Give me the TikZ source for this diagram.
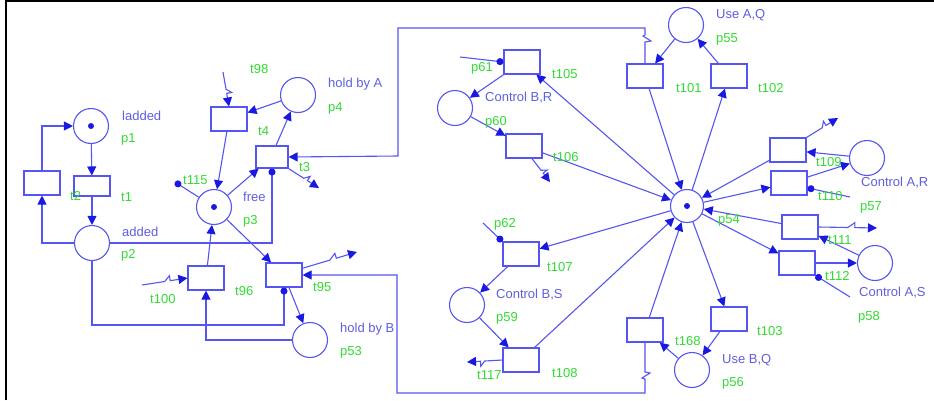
\documentclass[tikz,border=0pt]{standalone}
\usepackage{fontspec}
\setmainfont{Liberation Sans}
\usetikzlibrary{arrows.meta,calc}
\definecolor{pnblue}{RGB}{85,85,245}
\definecolor{tipblue}{RGB}{25,25,225}
\definecolor{lblblue}{RGB}{95,95,225}
\definecolor{lblgreen}{RGB}{50,220,50}
\tikzset{
 place/.style={circle,draw=pnblue,line width=1.1pt,minimum size=35pt,inner sep=0pt},
 trans/.style={rectangle,draw=pnblue,line width=1.1pt,minimum width=36pt,minimum height=24pt,inner sep=0pt},
 arc/.style={draw=pnblue,line width=1.1pt,-{Triangle[length=9pt,width=9pt,color=tipblue]}},
 testarc/.style={draw=pnblue,line width=1.1pt,-{Circle[length=7pt,color=tipblue]}},
 bl/.style={anchor=west,inner sep=0pt,text=lblblue,font=\fontsize{13}{15}\selectfont},
 gl/.style={anchor=west,inner sep=0pt,text=lblgreen,font=\fontsize{13}{15}\selectfont},
 tok/.style={circle,fill=tipblue,minimum size=6pt,inner sep=0pt},
 zigto/.style={to path={-- ($(\tikztostart)!0.5!(\tikztotarget)$) -- ($(\tikztostart)!0.62!(\tikztotarget)!5pt!90:(\tikztotarget)$) -- ($(\tikztostart)!0.62!(\tikztotarget)$) -- (\tikztotarget) \tikztonodes}},
}
\begin{document}
\begin{tikzpicture}[x=1pt,y=-1pt]
\useasboundingbox (0,0) rectangle (934,400);
\fill[white] (0,0) rectangle (934,400);
\draw[line width=2.4pt] (6,400) -- (6,1.2) -- (934,1.2);

% places
\node[place] (p1) at (91,126) {};
\node[place] (p2) at (92,243) {};
\node[place] (p3) at (214,207) {};
\node[place] (p4) at (298,95) {};
\node[place] (p53) at (310,340) {};
\node[place] (p60) at (455,108) {};
\node[place,minimum size=33pt] (p54) at (687,206) {};
\node[place] (p55) at (686,25) {};
\node[place] (p57) at (867,158) {};
\node[place] (p58) at (875,263) {};
\node[place] (p59) at (467,305) {};
\node[place] (p56) at (692,370) {};
\node[tok] (k1) at (p1) {};
\node[tok] (k3) at (p3) {};
\node[tok] (k54) at (p54) {};

% transitions
\node[trans,minimum height=20pt] (t1) at (92,186) {};
\node[trans] (t2) at (42,183) {};
\node[trans,minimum width=32pt,minimum height=22pt] (t4) at (272,157) {};
\node[trans] (t98) at (229,119) {};
\node[trans] (t96) at (206,278) {};
\node[trans] (t95) at (284,275) {};
\node[trans] (t105) at (522,62) {};
\node[trans] (t106) at (524,146) {};
\node[trans] (t101) at (645,76) {};
\node[trans] (t102) at (729,76) {};
\node[trans] (t109) at (788,150) {};
\node[trans] (t110) at (789,183) {};
\node[trans] (t111) at (800,227) {};
\node[trans] (t112) at (797,263) {};
\node[trans] (t103) at (729,319) {};
\node[trans] (t168) at (645,330) {};
\node[trans] (t107) at (521,254) {};
\node[trans] (t108) at (521,360) {};

% free ends
\coordinate (z98) at (223,72);
\coordinate (d115) at (175,182);
\coordinate (z4) at (319,188);
\coordinate (z95) at (357,252);
\coordinate (z100) at (142,285);
\coordinate (c95) at (284,325);
\coordinate (d61) at (460,57);
\coordinate (z106) at (550,182);
\coordinate (z109) at (838,118);
\coordinate (d110) at (850,197);
\coordinate (z111) at (877,228);
\coordinate (d112) at (850,297);
\coordinate (d62) at (483,223);
\coordinate (z117) at (467,362);

% left part
\draw[arc] (p1) -- (t1);
\draw[arc] (t1) -- (p2);
\draw[arc] (p2.west) -| (t2.south);
\draw[arc] (t2.north) |- (p1.west);
\draw[testarc] (p2.east) -| (t4.south);
\draw[arc] ([xshift=4pt]t4.north) -- (p4);
\draw[arc] (p4) -- (t98);
\draw[arc] (z98) to[zigto] (t98.north);
\draw[arc] (t98) -- (p3);
\draw[testarc] (p3) -- (d115);
\draw[arc] (p3) -- (t4);
\draw[arc] (t101.north) -- (645,42) -- (651,41) -- (643,36) -- (645,35) -- (645,28) -- (398,28) -- (398,156) -- (t4.east);
\draw[arc] (t4.south east) to[zigto] (z4);
\draw[arc] (p3) -- (t95);
\draw[arc] (t95.20) to[zigto] (z95);
\draw[arc] (t168.south) -- (645,372) -- (650,373) -- (642,378) -- (645,379) -- (645,393) -- (397,393) -- (397,275) -- (t95.east);
\draw[arc] (t95) -- (p53);
\draw[testarc] (p2.south) |- (c95) -- (t95.south);
\draw[arc] (p53.west) -| (t96.south);
\draw[arc] (t96) -- (p3);
\draw[arc] (z100) to[zigto] (t96.west);

% right part
\draw[arc] (t105) -- (p60);
\draw[testarc] (d61) -- (t105.west);
\draw[arc] (p54) -- (t105);
\draw[arc] (p60) -- (t106);
\draw[arc] ([xshift=8pt]t106.south) to[zigto] (z106);
\draw[arc] (t106) -- (p54);
\draw[arc] (p55) -- (t101);
\draw[arc] (t101) -- (p54);
\draw[arc] (p54) -- (t102);
\draw[arc] (t102) -- (p55);
\draw[arc] (t109) -- (p54);
\draw[arc] (t109.north east) to[zigto] (z109);
\draw[arc] (p57) -- (t109);
\draw[arc] (t110) -- (p57);
\draw[arc] (p54) -- (t110);
\draw[testarc] (d110) -- (t110.-15);
\draw[arc] (t111) -- (p54);
\draw[arc] (t111.east) to[zigto] (z111);
\draw[arc] (p58) -- (t111);
\draw[arc] (p54) -- (t112);
\draw[arc] (t112) -- (p58);
\draw[testarc] (d112) -- (t112.south east);
\draw[arc] (p54) -- (t103);
\draw[arc] (t103) -- (p56);
\draw[arc] (p56) -- (t168);
\draw[arc] (t168) -- (p54);
\draw[arc] (p54) -- (t107);
\draw[testarc] (d62) -- (t107.north west);
\draw[arc] (t107) -- (p59);
\draw[arc] (p59) -- (t108);
\draw[arc] (t108) -- (p54);
\draw[arc] (t108.west) to[zigto] (z117);

% labels
\node[bl] (lp1) at (122,116) {ladded};
\node[gl] (np1) at (121,139) {p1};
\node[gl] (nt1) at (121,197) {t1};
\node[gl] (nt2) at (70,196) {t2};
\node[bl] (lp2) at (122,232) {added};
\node[gl] (np2) at (121,255) {p2};
\node[gl] (nt115) at (183,180) {t115};
\node[gl] (nt98) at (250,69) {t98};
\node[bl] (lp4) at (328,84) {hold by A};
\node[gl] (np4) at (328,108) {p4};
\node[gl] (nt4) at (258,131) {t4};
\node[gl] (nt3) at (299,167) {t3};
\node[bl] (lp3) at (243,197) {free};
\node[gl] (np3) at (243,221) {p3};
\node[gl] (nt100) at (150,299) {t100};
\node[gl] (nt96) at (235,291) {t96};
\node[gl] (nt95) at (313,287) {t95};
\node[bl] (lp53) at (340,329) {hold by B};
\node[gl] (np53) at (340,352) {p53};
\node[gl] (np61) at (471,68) {p61};
\node[gl] (nt105) at (552,74) {t105};
\node[bl] (lp60) at (485,98) {Control B,R};
\node[gl] (np60) at (485,122) {p60};
\node[gl] (nt106) at (553,157) {t106};
\node[gl] (nt101) at (676,88) {t101};
\node[gl] (nt102) at (758,88) {t102};
\node[bl] (lp55) at (716,15) {Use A,Q};
\node[gl] (np55) at (716,39) {p55};
\node[gl] (nt109) at (816,162) {t109};
\node[bl] (lp57) at (861,183) {Control A,R};
\node[gl] (nt110) at (818,196) {t110};
\node[gl] (np57) at (860,207) {p57};
\node[gl] (nt111) at (828,240) {t111};
\node[gl] (nt112) at (825,276) {t112};
\node[bl] (lp58) at (859,293) {Control A,S};
\node[gl] (np58) at (858,317) {p58};
\node[gl] (np54) at (718,220) {p54};
\node[gl] (nt103) at (757,331) {t103};
\node[bl] (lp56) at (722,360) {Use B,Q};
\node[gl] (np56) at (722,383) {p56};
\node[gl] (nt168) at (675,341) {t168};
\node[gl] (np62) at (494,224) {p62};
\node[gl] (nt107) at (547,267) {t107};
\node[bl] (lp59) at (496,295) {Control B,S};
\node[gl] (np59) at (496,318) {p59};
\node[gl] (nt108) at (552,373) {t108};
\node[gl] (nt117) at (477,375) {t117};
\end{tikzpicture}
\end{document}
